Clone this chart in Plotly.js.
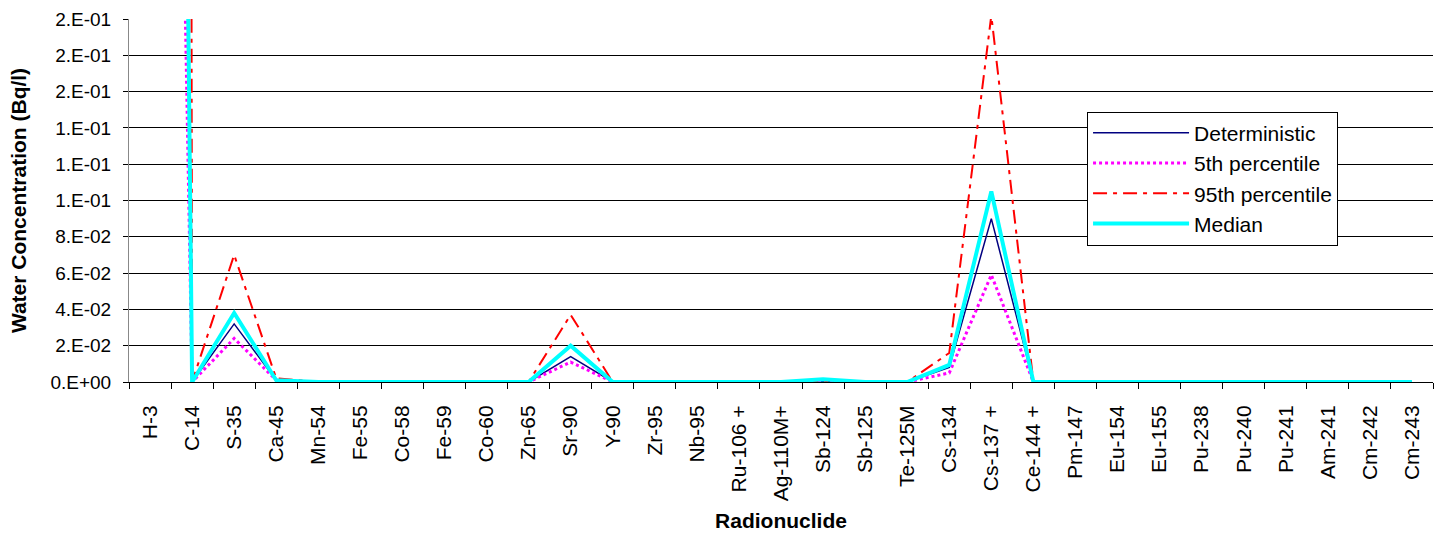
<!DOCTYPE html>
<html>
<head>
<meta charset="utf-8">
<script src="https://cdn.plot.ly/plotly-3.0.1.min.js"></script>
<style>html,body{margin:0;padding:0;background:#fff;}#chart{width:1441px;height:533px;}</style>
</head>
<body>
<div id="chart"></div>
<script>
const categories = ["H-3","C-14","S-35","Ca-45","Mn-54","Fe-55","Co-58","Fe-59","Co-60","Zn-65","Sr-90","Y-90","Zr-95","Nb-95","Ru-106 +","Ag-110M+","Sb-124","Sb-125","Te-125M","Cs-134","Cs-137 +","Ce-144 +","Pm-147","Eu-154","Eu-155","Pu-238","Pu-240","Pu-241","Am-241","Cm-242","Cm-243"];
const deterministic = [2.0,0,0.032,0.001,0,0,0,0,0,0,0.014,0,0,0,0,0,0.0005,0,0,0.008,0.090,0,0,0,0,0,0,0,0,0,0];
const p5 = [1.26,0,0.024,0.001,0,0,0,0,0,0,0.011,0,0,0,0,0,0,0,0,0.005,0.059,0,0,0,0,0,0,0,0,0,0];
const p95 = [15,0,0.070,0.002,0,0,0,0,0,0,0.037,0,0,0,0,0,0,0,0,0.016,0.202,0,0,0,0,0,0,0,0,0,0];
const median = [2.2,0,0.038,0.001,0,0,0,0,0,0,0.020,0,0,0,0,0,0.0015,0,0,0.0094,0.105,0,0,0,0,0,0,0,0,0,0];
const yTickVals = [0,0.02,0.04,0.06,0.08,0.10,0.12,0.14,0.16,0.18,0.20];
const yTickText = ["0.E+00","2.E-02","4.E-02","6.E-02","8.E-02","1.E-01","1.E-01","1.E-01","2.E-01","2.E-01","2.E-01"];

const F = "Liberation Sans, Arial, sans-serif";
const traces = [
  {x: categories, y: deterministic, name: "Deterministic", mode: "lines", line: {color: "#000080", width: 1.5}},
  {x: categories, y: p5, name: "5th percentile", mode: "lines", line: {color: "#FF00FF", width: 3, dash: "dot"}},
  {x: categories, y: p95, name: "95th percentile", mode: "lines", line: {color: "#FF0000", width: 2, dash: "14px,6px,4px,6px"}},
  {x: categories, y: median, name: "Median", mode: "lines", line: {color: "#00FFFF", width: 4}}
];
const layout = {
  width: 1441, height: 533,
  margin: {l: 129, r: 8, t: 19, b: 151},
  paper_bgcolor: "#fff", plot_bgcolor: "#fff",
  font: {family: F, color: "#000", size: 19},
  showlegend: true,
  legend: {x: 0.7347, y: 0.745, xanchor: "left", yanchor: "top", bgcolor: "#fff", bordercolor: "#000", borderwidth: 1,
           font: {family: F, size: 21, color: "#000"}, traceorder: "normal", itemwidth: 96},
  xaxis: {
    type: "category", tickangle: -90, tickson: "boundaries", ticks: "outside", ticklen: 6, tickcolor: "#000",
    showline: true, linecolor: "#000", linewidth: 1, showgrid: false, zeroline: false,
    tickfont: {family: F, size: 21, color: "#000"}, ticklabelstandoff: 14,
    title: {text: "<b>Radionuclide</b>", font: {family: F, size: 21, color: "#000"}, standoff: 12},
    range: [-0.5, 30.5]
  },
  yaxis: {
    range: [0, 0.2], tickvals: yTickVals, ticktext: yTickText, ticks: "outside", ticklen: 5, tickcolor: "#000",
    showline: true, linecolor: "#888", linewidth: 1, showgrid: true, gridcolor: "#000", gridwidth: 1, zeroline: false,
    tickfont: {family: F, size: 19, color: "#000"}, ticklabelstandoff: 8,
    title: {text: "<b>Water Concentration (Bq/l)</b>", font: {family: F, size: 21, color: "#000"}, standoff: 18}
  }
};
Plotly.newPlot("chart", traces, layout, {staticPlot: true, displayModeBar: false});
</script>
</body>
</html>
